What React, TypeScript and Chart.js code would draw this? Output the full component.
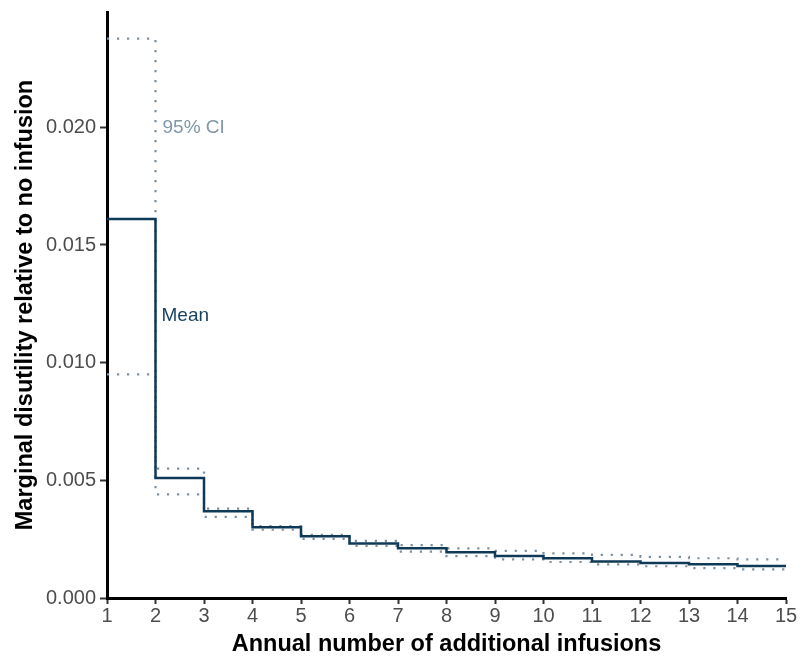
import React, { useEffect, useRef } from "react";
import { Chart, registerables } from "chart.js";

Chart.register(...registerables);

// Annual number of additional infusions: step k covers [k, k+1]
const stepStarts = [1, 2, 3, 4, 5, 6, 7, 8, 9, 10, 11, 12, 13, 14];
const xEnd = 15;
const meanValues = [0.0161, 0.0051, 0.00369, 0.00301, 0.00262, 0.00232, 0.00211, 0.00194, 0.00178, 0.00169, 0.00155, 0.00149, 0.00143, 0.00136];
const upperCI = [0.02377, 0.0055, 0.0038, 0.00305, 0.00268, 0.00243, 0.00225, 0.00211, 0.002, 0.0019, 0.00183, 0.00175, 0.00169, 0.00164];
const lowerCI = [0.0095, 0.0044, 0.00345, 0.0029, 0.00251, 0.00221, 0.00197, 0.00178, 0.00164, 0.00153, 0.00143, 0.00135, 0.00127, 0.00122];
const yTickValues = [0, 0.005, 0.01, 0.015, 0.02];
const xTickValues = [1, 2, 3, 4, 5, 6, 7, 8, 9, 10, 11, 12, 13, 14, 15];

const ciLabel = { text: "95% CI", x: 2, y: 0.02 };
const meanLabel = { text: "Mean", x: 2, y: 0.012 };

const FONT = "'Liberation Sans', Arial, sans-serif";
const MEAN_COLOR = "#0f3a57";
const CI_COLOR = "#7d90a0";
const CI_TEXT = "#7f97a9";
const MEAN_TEXT = "#173f5e";

function toSteps(vals: number[]) {
  const pts = vals.map((v, i) => ({ x: stepStarts[i], y: v }));
  pts.push({ x: xEnd, y: vals[vals.length - 1] });
  return pts;
}

const labelPlugin = {
  id: "stepLabels",
  afterDatasetsDraw(chart: any) {
    const { ctx, scales } = chart;
    const xs = scales.x;
    const ys = scales.y;
    ctx.save();
    ctx.font = `19px ${FONT}`;
    ctx.textBaseline = "middle";
    ctx.textAlign = "left";
    ctx.fillStyle = CI_TEXT;
    ctx.fillText(ciLabel.text, xs.getPixelForValue(ciLabel.x) + 7, ys.getPixelForValue(ciLabel.y));
    ctx.fillStyle = MEAN_TEXT;
    ctx.fillText(meanLabel.text, xs.getPixelForValue(meanLabel.x) + 6, ys.getPixelForValue(meanLabel.y));
    ctx.restore();
  },
};

export default function App() {
  const ref = useRef<HTMLCanvasElement>(null);
  useEffect(() => {
    document.body.style.margin = "0";
    const chart = new Chart(ref.current as HTMLCanvasElement, {
      type: "line",
      data: {
        datasets: [
          {
            label: "Mean",
            data: toSteps(meanValues),
            stepped: "before" as any,
            borderColor: MEAN_COLOR,
            borderWidth: 2.5,
            pointRadius: 0,
            fill: false,
          },
          {
            label: "Upper 95% CI",
            data: toSteps(upperCI),
            stepped: "before" as any,
            borderColor: CI_COLOR,
            borderWidth: 2.2,
            borderDash: [2.2, 7.8],
            borderCapStyle: "butt",
            pointRadius: 0,
            fill: false,
          },
          {
            label: "Lower 95% CI",
            data: toSteps(lowerCI),
            stepped: "before" as any,
            borderColor: CI_COLOR,
            borderWidth: 2.2,
            borderDash: [2.2, 7.8],
            borderCapStyle: "butt",
            pointRadius: 0,
            fill: false,
          },
        ],
      },
      options: {
        animation: false,
        responsive: false,
        devicePixelRatio: 1,
        layout: { padding: { top: 12, right: 15, left: 0, bottom: 0 } },
        plugins: { legend: { display: false }, tooltip: { enabled: false } },
        scales: {
          x: {
            type: "linear",
            min: 1,
            max: 15,
            afterBuildTicks: (s: any) => {
              s.ticks = xTickValues.map((v) => ({ value: v }));
            },
            afterFit: (s: any) => {
              s.height = 58;
              s.paddingLeft = 0;
              s.paddingRight = 0;
            },
            grid: { display: true, drawOnChartArea: false, drawTicks: true, tickLength: 6, tickColor: "#333333", tickWidth: 2 },
            border: { display: true, color: "#000000", width: 3 },
            ticks: { color: "#4d4d4d", font: { family: FONT, size: 20 }, padding: 0, maxRotation: 0, autoSkip: false },
            title: { display: true, text: "Annual number of additional infusions", color: "#000000", font: { family: FONT, size: 23.5, weight: "bold" }, padding: { top: 0, bottom: -3 } },
          },
          y: {
            type: "linear",
            min: 0,
            max: 0.0249,
            afterBuildTicks: (s: any) => {
              s.ticks = yTickValues.map((v) => ({ value: v }));
            },
            afterFit: (s: any) => {
              s.width = 107;
              s.paddingTop = 0;
              s.paddingBottom = 0;
            },
            grid: { display: true, drawOnChartArea: false, drawTicks: true, tickLength: 7, tickColor: "#333333", tickWidth: 2 },
            border: { display: true, color: "#000000", width: 3 },
            ticks: { color: "#4d4d4d", font: { family: FONT, size: 20 }, padding: 4, callback: (v: any) => Number(v).toFixed(3) },
            title: { display: true, text: "Marginal disutility relative to no infusion", color: "#000000", font: { family: FONT, size: 23.5, weight: "bold" }, padding: { top: 11, bottom: 0 } },
          },
        },
      },
      plugins: [labelPlugin],
    });
    return () => chart.destroy();
  }, []);
  return (
    <div style={{ position: "absolute", left: 0, top: 0, width: 801, height: 656, background: "#ffffff" }}>
      <canvas ref={ref} width={801} height={656} />
    </div>
  );
}
